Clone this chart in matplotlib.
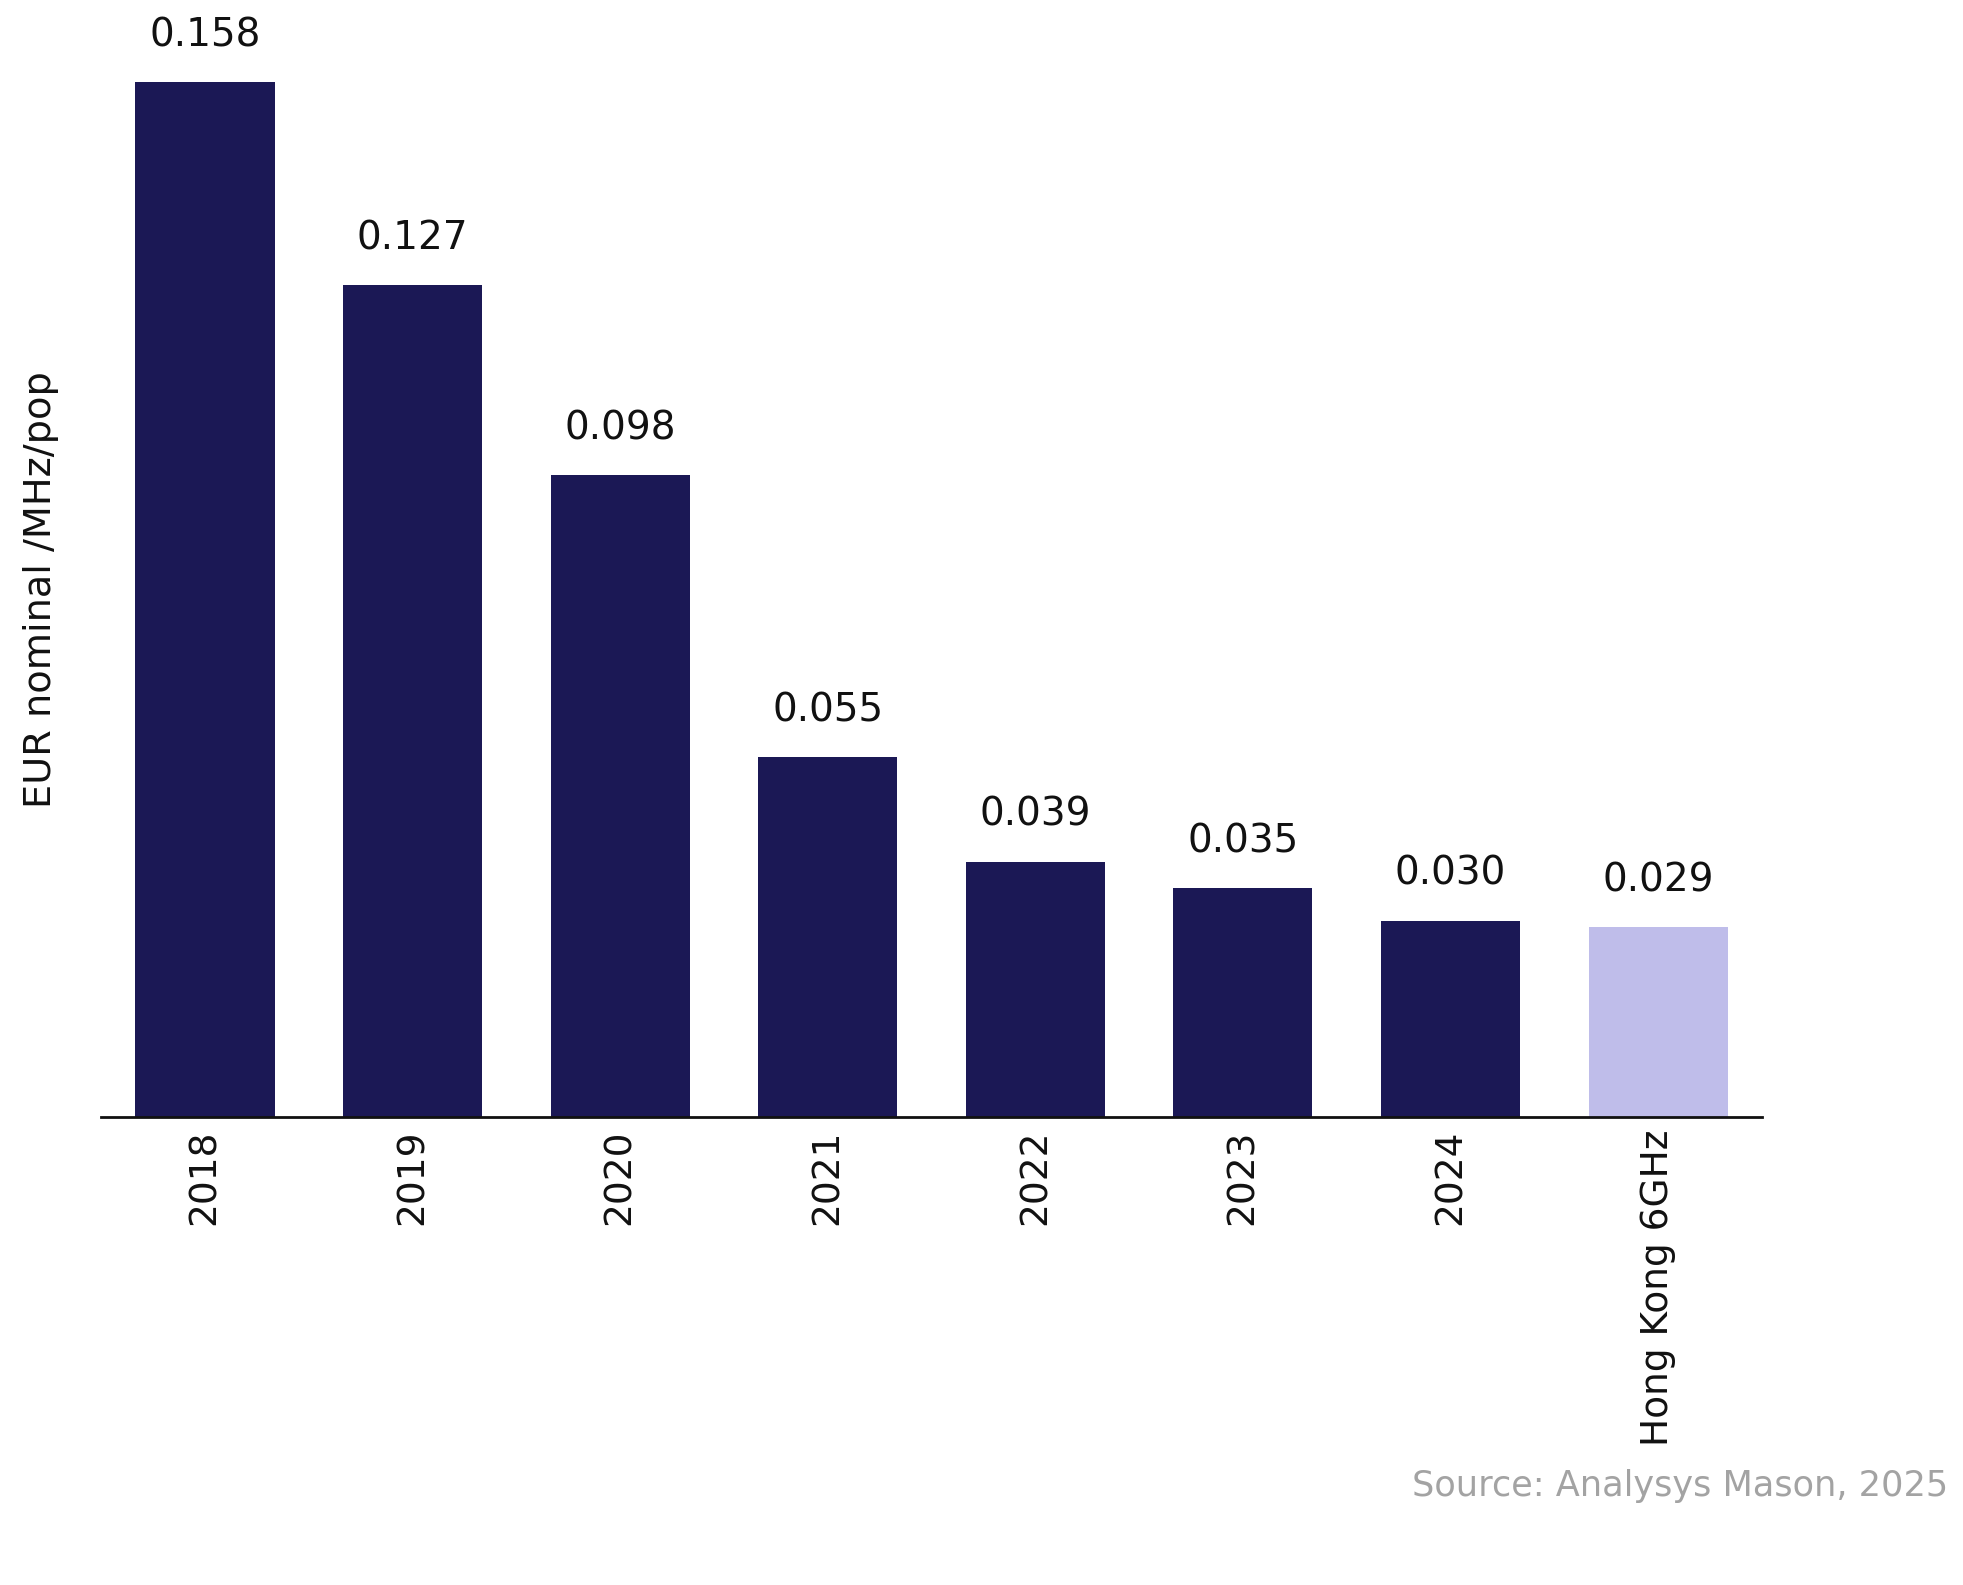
import matplotlib
matplotlib.use("Agg")
import matplotlib.pyplot as plt

categories = ["2018", "2019", "2020", "2021", "2022", "2023", "2024", "Hong Kong 6GHz"]
values = [0.158, 0.127, 0.098, 0.055, 0.039, 0.035, 0.030, 0.029]
labels = ["0.158", "0.127", "0.098", "0.055", "0.039", "0.035", "0.030", "0.029"]
colors = ["#1b1855"] * 7 + ["#bfbdea"]

plt.rcParams['font.family'] = ['DejaVu Sans']

W, H = 1963, 1585
fig = plt.figure(figsize=(W / 100, H / 100), dpi=100)
ax = fig.add_axes([80 / 1552, (1253 - 883) / 1253, (1393 - 80) / 1552, (883 - 3) / 1253])
x = list(range(len(categories)))
ax.bar(x, values, width=0.67, color=colors)
ax.set_xlim(-0.5, 7.5)
ax.set_ylim(0, 0.17)
for xi, v, lab in zip(x, values, labels):
    ax.annotate(lab, (xi, v), xytext=(0, 20), textcoords="offset points",
                ha="center", va="bottom", fontsize=28, color="#111111")
ax.set_xticks(x)
ax.set_xticklabels(categories, rotation=90, fontsize=27, color="#111111", va="top")
ax.tick_params(axis="x", length=0, pad=9)
ax.set_yticks([])
for s in ["top", "right", "left"]:
    ax.spines[s].set_visible(False)
ax.spines["bottom"].set_linewidth(2)
ax.spines["bottom"].set_color("#111111")

fig.text(0.021, 1 - 590 / 1585, "EUR nominal /MHz/pop", rotation=90,
         ha="center", va="center", fontsize=27.5, color="#111111")
fig.text(1540 / 1552, 1 - 1175 / 1253, "Source: Analysys Mason, 2025",
         ha="right", va="center", fontsize=25.3, color="#a3a3a3")

fig.savefig("out.png", dpi=100, facecolor="white")
